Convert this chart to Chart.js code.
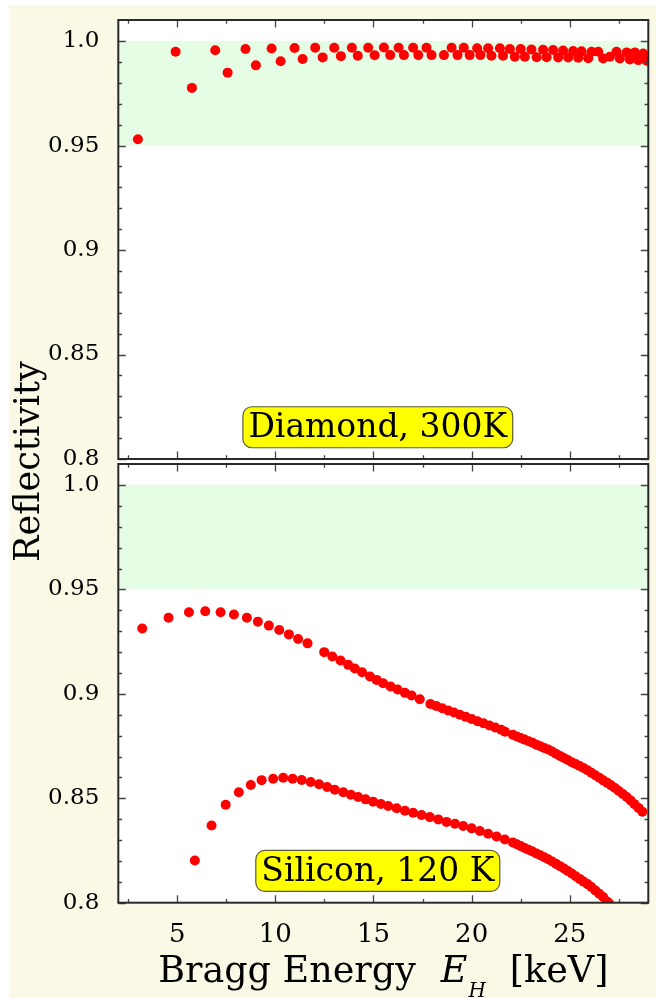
<!DOCTYPE html>
<html><head><meta charset="utf-8">
<script src="https://cdn.jsdelivr.net/npm/chart.js@4.4.1/dist/chart.umd.min.js"></script>
<style>html,body{margin:0;padding:0;background:#fff;}canvas{display:block;}</style>
</head><body>
<canvas id="c" width="656" height="998"></canvas>
<script>
// ---- data (Bragg energy keV, reflectivity) ----
const diamondPoints = [[3.0,0.953],[4.92,0.9949],[5.75,0.9776],[6.94,0.9956],[7.57,0.9849],[8.48,0.9962],[9.01,0.9884],[9.81,0.9965],[10.27,0.9904],[10.98,0.9967],[11.39,0.9914],[12.03,0.9968],[12.41,0.9922],[13.0,0.9968],[13.34,0.9928],[13.9,0.9968],[14.2,0.993],[14.73,0.9968],[15.06,0.9932],[15.53,0.9969],[15.85,0.9933],[16.28,0.9968],[16.55,0.9933],[17.02,0.9968],[17.28,0.9933],[17.7,0.9968],[17.96,0.9933],[18.59,0.9933],[18.98,0.9968],[19.28,0.9933],[19.6,0.9968],[19.9,0.9933],[20.28,0.9966],[20.45,0.9933],[20.84,0.9966],[21.01,0.993],[21.44,0.9966],[21.6,0.993],[21.95,0.9962],[22.2,0.9925],[22.5,0.9962],[22.71,0.9925],[23.05,0.996],[23.31,0.9923],[23.64,0.9959],[23.82,0.9923],[24.15,0.9957],[24.41,0.9922],[24.66,0.9955],[24.92,0.9922],[25.17,0.9953],[25.43,0.992],[25.6,0.9951],[25.94,0.9918],[26.11,0.9949],[26.45,0.9949],[26.7,0.9917],[27.04,0.9925],[27.38,0.9949],[27.55,0.9917],[27.9,0.9946],[28.06,0.9912],[28.32,0.9946],[28.49,0.9909],[28.74,0.9941],[28.91,0.9906]];
const siliconUpper = [[3.22,0.9313],[4.56,0.9365],[5.6,0.9391],[6.43,0.9396],[7.21,0.9391],[7.89,0.938],[8.55,0.9365],[9.11,0.9346],[9.67,0.9327],[10.2,0.9306],[10.69,0.9285],[11.16,0.9263],[11.64,0.9242],[12.49,0.92],[12.9,0.9179],[13.32,0.916],[13.71,0.9139],[14.05,0.9122],[14.42,0.9104],[14.82,0.9083],[15.16,0.9067],[15.49,0.9051],[15.87,0.9035],[16.23,0.9021],[16.6,0.9005],[16.94,0.8992],[17.36,0.8974],[17.9,0.8952],[18.2,0.8942],[18.5,0.8931],[18.8,0.8921],[19.1,0.8911],[19.4,0.89],[19.7,0.889],[20.0,0.888],[20.3,0.8869],[20.6,0.8859],[20.9,0.8849],[21.2,0.8839],[21.5,0.8828],[21.7,0.8819],[22.1,0.8804],[22.3,0.8796],[22.5,0.8789],[22.7,0.8781],[22.9,0.8773],[23.1,0.8766],[23.3,0.8757],[23.5,0.8749],[23.7,0.8741],[23.9,0.8734],[24.1,0.8724],[24.3,0.8713],[24.5,0.8703],[24.7,0.8693],[24.9,0.8683],[25.1,0.8673],[25.3,0.8664],[25.5,0.8655],[25.7,0.8645],[25.9,0.8634],[26.1,0.8622],[26.3,0.861],[26.5,0.8598],[26.7,0.8586],[26.9,0.8575],[27.1,0.8562],[27.3,0.8549],[27.5,0.8535],[27.7,0.8521],[27.9,0.8506],[28.1,0.849],[28.3,0.8472],[28.5,0.8454],[28.7,0.8436]];
const siliconLower = [[5.9,0.8202],[6.75,0.837],[7.47,0.8469],[8.14,0.8529],[8.75,0.8564],[9.3,0.8587],[9.89,0.8594],[10.4,0.8598],[10.88,0.8594],[11.34,0.8588],[11.8,0.8578],[12.23,0.8567],[12.64,0.8554],[13.03,0.8541],[13.46,0.8529],[13.85,0.8517],[14.22,0.8506],[14.6,0.8495],[14.98,0.8484],[15.38,0.8473],[15.75,0.8463],[16.18,0.8452],[16.6,0.844],[17.02,0.8431],[17.45,0.842],[17.87,0.841],[18.3,0.8399],[18.72,0.8387],[19.15,0.8378],[19.57,0.8367],[20.0,0.8356],[20.42,0.8343],[20.84,0.833],[21.27,0.8317],[21.69,0.8303],[22.1,0.8288],[22.3,0.828],[22.5,0.8271],[22.7,0.8262],[22.9,0.8254],[23.1,0.8245],[23.3,0.8236],[23.5,0.8227],[23.7,0.8218],[23.9,0.8208],[24.1,0.8197],[24.3,0.8186],[24.5,0.8175],[24.7,0.8164],[24.9,0.8152],[25.1,0.814],[25.3,0.8127],[25.5,0.8114],[25.7,0.8101],[25.9,0.8089],[26.1,0.8075],[26.3,0.8059],[26.5,0.8043],[26.7,0.8027],[26.9,0.8006],[27.0,0.7997]];

// ---- ticks, ranges, labels ----
const xRange = [2, 29];
const yRange = [0.8, 1.0101];
const xTickValues = [5, 10, 15, 20, 25];
const xTickLabels = ['5', '10', '15', '20', '25'];
const xMinorTicks = [2.5, 7.5, 12.5, 17.5, 22.5, 27.5];
const yTickValues = [0.8, 0.85, 0.9, 0.95, 1.0];
const yTickLabels = ['0.8', '0.85', '0.9', '0.95', '1.0'];
const yMinorTicks = [0.81, 0.82, 0.83, 0.84, 0.86, 0.87, 0.88, 0.89, 0.91, 0.92, 0.93, 0.94, 0.96, 0.97, 0.98, 0.99];
const bandRange = [0.95, 1.0];
const panelLabels = ['Diamond, 300K', 'Silicon, 120 K'];
const panelLabelPos = [15.22, 0.8152];
const yTitle = 'Reflectivity';
const xTitleParts = ['Bragg Energy', 'E', 'H', '[keV]'];

const SERIF = '"DejaVu Serif", serif';
const toXY = arr => arr.map(p => ({x: p[0], y: p[1]}));

function drawFrame(ctx, xs, ys) {
  const L = xs.left, R = xs.right, T = ys.top, B = ys.bottom;
  ctx.save();
  ctx.strokeStyle = '#444';
  ctx.lineWidth = 1.3;
  ctx.beginPath();
  const vx = (vals, len) => vals.forEach(v => {
    const p = Math.round(xs.getPixelForValue(v)) + 0.5;
    ctx.moveTo(p, T); ctx.lineTo(p, T + len);
    ctx.moveTo(p, B); ctx.lineTo(p, B - len);
  });
  const vy = (vals, len) => vals.forEach(v => {
    const p = Math.round(ys.getPixelForValue(v)) + 0.5;
    ctx.moveTo(L, p); ctx.lineTo(L + len, p);
    ctx.moveTo(R, p); ctx.lineTo(R - len, p);
  });
  vx(xTickValues, 7.5); vx(xMinorTicks, 3.8);
  vy(yTickValues, 7.5); vy(yMinorTicks, 3.8);
  ctx.stroke();
  ctx.strokeStyle = '#2a2a2a';
  ctx.lineWidth = 2;
  ctx.strokeRect(L, T, R - L, B - T);
  ctx.restore();
}

function drawPanelLabel(ctx, text, cx, cy) {
  ctx.save();
  ctx.font = '33px ' + SERIF;
  const w = ctx.measureText(text).width;
  const bw = w + 11, bh = 41;
  ctx.beginPath();
  ctx.roundRect(cx - bw / 2, cy - bh / 2, bw, bh, 9);
  ctx.fillStyle = '#ffff00';
  ctx.fill();
  ctx.strokeStyle = '#5a5a3c';
  ctx.lineWidth = 1.2;
  ctx.stroke();
  ctx.fillStyle = '#000';
  ctx.textAlign = 'center';
  ctx.textBaseline = 'alphabetic';
  ctx.fillText(text, cx, cy + 10);
  ctx.restore();
}

function drawXTitle(ctx, xs) {
  ctx.save();
  ctx.fillStyle = '#000';
  ctx.textBaseline = 'alphabetic';
  ctx.textAlign = 'left';
  const fReg = '36.5px ' + SERIF, fIt = 'italic 36.5px ' + SERIF, fSub = 'italic 20px ' + SERIF;
  ctx.font = fReg; const w1 = ctx.measureText(xTitleParts[0]).width;
  const w4 = ctx.measureText(xTitleParts[3]).width;
  ctx.font = fIt; const w2 = ctx.measureText(xTitleParts[1]).width;
  ctx.font = fSub; const w3 = ctx.measureText(xTitleParts[2]).width;
  const g1 = 25, g2 = 1, g3 = 24;
  const total = w1 + g1 + w2 + g2 + w3 + g3 + w4;
  let x = (xs.left + xs.right) / 2 - total / 2;
  const base = 981.5;
  ctx.font = fReg; ctx.fillText(xTitleParts[0], x, base); x += w1 + g1;
  ctx.font = fIt; ctx.fillText(xTitleParts[1], x, base); x += w2 + g2;
  ctx.font = fSub; ctx.fillText(xTitleParts[2], x, base + 15); x += w3 + g3;
  ctx.font = fReg; ctx.fillText(xTitleParts[3], x, base);
  ctx.restore();
}

const panelPlugin = {
  id: 'panels',
  beforeDraw(chart) {
    const ctx = chart.ctx, xs = chart.scales.x;
    ctx.save();
    ctx.fillStyle = '#faf9e6';
    ctx.fillRect(9, 5, chart.width - 9, chart.height - 5);
    const top = chart.scales.yTop, bot = chart.scales.yBot;
    ctx.fillStyle = '#fff';
    ctx.fillRect(xs.left, top.top, xs.right - xs.left, bot.bottom - top.top);
    ctx.fillStyle = '#e5fce5';
    for (const ys of [top, bot]) {
      const a = ys.getPixelForValue(bandRange[1]), b = ys.getPixelForValue(bandRange[0]);
      ctx.fillRect(xs.left, a, xs.right - xs.left, b - a);
    }
    ctx.restore();
  },
  afterDatasetsDraw(chart) {
    const ctx = chart.ctx, xs = chart.scales.x;
    const ids = ['yTop', 'yBot'];
    ids.forEach((id, i) => {
      const ys = chart.scales[id];
      drawFrame(ctx, xs, ys);
      drawPanelLabel(ctx, panelLabels[i], xs.getPixelForValue(panelLabelPos[0]), ys.getPixelForValue(panelLabelPos[1]));
    });
    drawXTitle(ctx, xs);
  }
};

const fitV = s => { s.width = 118.3; s.paddingTop = 0; s.paddingBottom = 0; };
const yCommon = {
  type: 'linear', position: 'left', stack: 'refl', offset: false,
  min: yRange[0], max: yRange[1],
  grid: {display: false, drawTicks: false}, border: {display: false},
  afterBuildTicks: s => { s.ticks = yTickValues.map(v => ({value: v})); },
  afterFit: fitV,
  ticks: {
    autoSkip: false, padding: 19, color: '#000',
    font: {family: SERIF, size: 23},
    callback: v => { const i = yTickValues.findIndex(t => Math.abs(t - v) < 1e-6); return i >= 0 ? yTickLabels[i] : null; }
  }
};

new Chart(document.getElementById('c'), {
  type: 'scatter',
  data: {
    datasets: [
      {label: 'Diamond, 300K', data: toXY(diamondPoints), yAxisID: 'yTop', xAxisID: 'x', backgroundColor: '#ff0000', borderWidth: 0, pointRadius: 5},
      {label: 'Silicon upper', data: toXY(siliconUpper), yAxisID: 'yBot', xAxisID: 'x', backgroundColor: '#ff0000', borderWidth: 0, pointRadius: 5},
      {label: 'Silicon lower', data: toXY(siliconLower), yAxisID: 'yBot', xAxisID: 'x', backgroundColor: '#ff0000', borderWidth: 0, pointRadius: 5}
    ]
  },
  options: {
    responsive: false, animation: false, devicePixelRatio: 1,
    layout: {padding: {top: 20, right: 7.7, left: 0, bottom: 0}},
    plugins: {legend: {display: false}, tooltip: {enabled: false}},
    scales: {
      x: {
        type: 'linear', position: 'bottom', min: xRange[0], max: xRange[1],
        grid: {display: false, drawTicks: false}, border: {display: false},
        afterBuildTicks: s => { s.ticks = xTickValues.map(v => ({value: v})); },
        afterFit: s => { s.height = 95.3; s.paddingLeft = 0; s.paddingRight = 0; },
        ticks: {
          autoSkip: false, maxRotation: 0, padding: 17, color: '#000',
          font: {family: SERIF, size: 26},
          callback: v => { const i = xTickValues.indexOf(v); return i >= 0 ? xTickLabels[i] : null; }
        }
      },
      yTop: Object.assign({}, yCommon, {stackWeight: 439, weight: 3}),
      ySpacer: {
        type: 'linear', position: 'left', stack: 'refl', stackWeight: 5, weight: 2, offset: false,
        min: 0, max: 1,
        grid: {display: false, drawTicks: false}, border: {display: false},
        ticks: {display: false},
        afterFit: fitV,
        title: {display: true, text: yTitle, color: '#000', font: {family: SERIF, size: 35}, padding: {top: 9, bottom: 0}}
      },
      yBot: Object.assign({}, yCommon, {stackWeight: 438.7, weight: 1})
    }
  },
  plugins: [panelPlugin]
});
</script>
</body></html>
